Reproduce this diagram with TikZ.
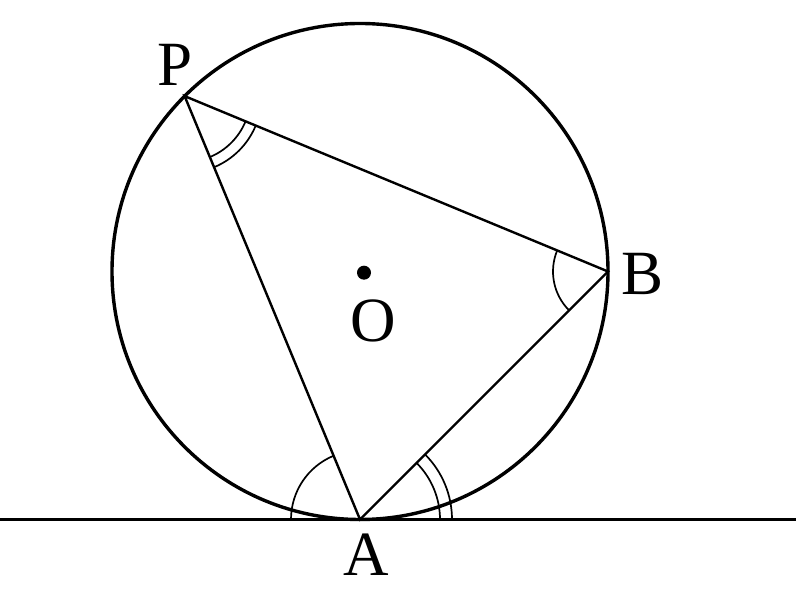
\documentclass[tikz,border=0pt]{standalone}
\usepackage{fontspec}
\setmainfont{Liberation Serif}
\usetikzlibrary{angles}
\tikzset{
  lbl/.style={inner sep=0pt, anchor=center, font=\fontsize{63}{63}\selectfont},
  thickline/.style={line width=3.4pt},
  sideline/.style={line width=2.4pt},
  anglemark/.style={draw, line width=1.7pt},
}
\begin{document}
\begin{tikzpicture}[x=1pt,y=1pt]
\useasboundingbox (0,0) rectangle (796,599);
\coordinate (C) at (360,327.5);
\coordinate (A) at (360,79.5);
\coordinate (B) at (608,327.5);
\coordinate (P) at (184.6,502.9);
\coordinate (L) at (0,79.5);
\coordinate (R) at (796,79.5);
\draw[thickline] (C) circle (248);
\draw[line width=2.8pt] (L) -- (R);
\draw[sideline] (P) -- (B) -- (A) -- cycle;
\fill (364,326.3) circle (7);
\pic[anglemark, angle radius=69pt] {angle=P--A--L};
\pic[anglemark, angle radius=80pt] {angle=R--A--B};
\pic[anglemark, angle radius=92pt] {angle=R--A--B};
\pic[anglemark, angle radius=66pt] {angle=A--P--B};
\pic[anglemark, angle radius=77pt] {angle=A--P--B};
\pic[anglemark, angle radius=55pt] {angle=P--B--A};
\node[lbl] (lP) at (175,534) {P};
\node[lbl] (lB) at (643,325.5) {B};
\node[lbl] (lA) at (366,44) {A};
\node[lbl] (lO) at (373,278) {O};
\end{tikzpicture}
\end{document}
